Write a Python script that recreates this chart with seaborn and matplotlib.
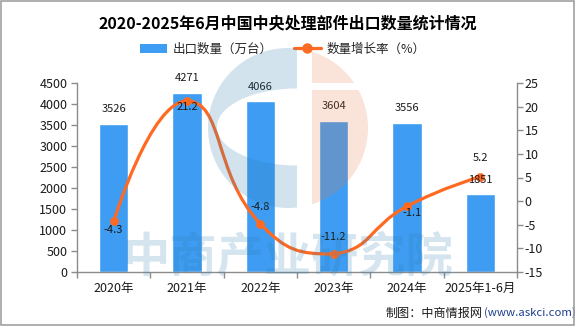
import numpy as np
import pandas as pd
import seaborn as sns
import matplotlib
matplotlib.use("Agg")
import matplotlib.pyplot as plt
from matplotlib.path import Path
from matplotlib.patches import PathPatch, Patch, Rectangle
from matplotlib.lines import Line2D

# ---------------- data ----------------
categories = ['2020年', '2021年', '2022年', '2023年', '2024年', '2025年1-6月']
export_qty = [3526, 4271, 4066, 3604, 3556, 1851]          # 出口数量（万台）
growth_rate = [-4.3, 21.2, -4.8, -11.2, -1.1, 5.2]          # 数量增长率（%）
left_ticks = [0, 500, 1000, 1500, 2000, 2500, 3000, 3500, 4000, 4500]
right_ticks = [-15, -10, -5, 0, 5, 10, 15, 20, 25]
title = '2020-2025年6月中国中央处理部件出口数量统计情况'
legend_labels = ['出口数量（万台）', '数量增长率（%）']
source_cn = '制图：中商情报网'
source_url = '(www.askci.com)'
watermark = '中商产业研究院'

# ---------------- style ----------------
BAR = '#3E9DF2'
LINE = '#FF6A22'
AXC = '#8c8c8c'
TXT = '#1a1a1a'
# offsets (points) of growth-rate labels relative to their markers
growth_label_offsets = [(0, -6), (0, -4), (0, 12), (0, 12), (4, -5), (0, 13)]

sns.set_theme(style='white')
plt.rcParams['font.family'] = ['Noto Sans CJK SC', 'DejaVu Sans']
plt.rcParams['axes.unicode_minus'] = False

W, H = 576, 327
fig = plt.figure(figsize=(W / 100, H / 100), dpi=100)
fig.patch.set_facecolor('white')

# plot area in pixels: x 77..517, y 83..272
ax = fig.add_axes([77 / W, 1 - 272 / H, 440 / W, 189 / H])
ax.set_facecolor('none')

df = pd.DataFrame({'cat': categories, 'qty': export_qty, 'rate': growth_rate})
sns.barplot(data=df, x='cat', y='qty', color=BAR, saturation=1, width=0.4, ax=ax, zorder=2)
ax.set_xlim(-0.5, len(categories) - 0.5)
ax.set_ylim(left_ticks[0], left_ticks[-1])
ax.set_yticks(left_ticks)
ax.set_xlabel('')
ax.set_ylabel('')

for s in ['top', 'right']:
    ax.spines[s].set_visible(False)
for s in ['left', 'bottom']:
    ax.spines[s].set_color(AXC)
    ax.spines[s].set_linewidth(1.0)

ax.tick_params(axis='y', which='major', direction='out', length=4.5, width=1.0,
               color=AXC, pad=2.5, labelsize=9, labelcolor=TXT, left=True)
ax.set_xticks(range(len(categories)))
ax.set_xticklabels(categories)
ax.tick_params(axis='x', which='major', length=0, pad=7, labelsize=9, labelcolor=TXT, bottom=True)
ax.set_xticks(np.arange(-0.5, len(categories), 1.0), minor=True)
ax.tick_params(axis='x', which='minor', direction='out', length=4, width=1.0, color=AXC, bottom=True)
ax.grid(False)

# secondary axis
ax2 = ax.twinx()
ax2.set_ylim(right_ticks[0], right_ticks[-1])
ax2.set_yticks(right_ticks)
for s in ['top', 'left', 'bottom']:
    ax2.spines[s].set_visible(False)
ax2.spines['right'].set_color(AXC)
ax2.spines['right'].set_linewidth(1.0)
ax2.tick_params(axis='y', direction='out', length=4.5, width=1.0, color=AXC, pad=1,
                labelsize=9, labelcolor=TXT, right=True)
ax2.grid(False)

# smooth growth line (ECharts-like bezier smoothing, computed in display space)
xs = np.arange(len(categories), dtype=float)
pts = ax2.transData.transform(np.column_stack([xs, growth_rate]))
smooth = 0.5
verts = [tuple(pts[0])]
codes = [Path.MOVETO]
cp = pts[0].copy()
n = len(pts)
for i in range(1, n):
    p = pts[i]
    if i + 1 < n:
        prev, nxt = pts[i - 1], pts[i + 1]
        v = nxt - prev
        l0 = np.hypot(*(p - prev))
        l1 = np.hypot(*(nxt - p))
        r = l1 / (l0 + l1)
        c0 = p - v * smooth * (1 - r)
        ncp = p + v * smooth * r
        lo = np.minimum(prev, nxt); hi = np.maximum(prev, nxt)
        c0 = np.clip(c0, np.minimum(lo, p), np.maximum(hi, p))
        ncp = np.clip(ncp, np.minimum(lo, p), np.maximum(hi, p))
    else:
        c0 = p.copy()
        ncp = p.copy()
    verts += [tuple(cp), tuple(c0), tuple(p)]
    codes += [Path.CURVE4] * 3
    cp = ncp
verts_data = ax2.transData.inverted().transform(np.array(verts))
line_patch = PathPatch(Path(verts_data, codes), facecolor='none', edgecolor=LINE,
                       linewidth=2.3, transform=ax2.transData, zorder=3, capstyle='round')
ax2.add_patch(line_patch)
sns.scatterplot(x=xs, y=growth_rate, ax=ax2, color=LINE, s=40, edgecolor=LINE,
                linewidth=0, zorder=4, legend=False)

# labels
for i, v in enumerate(export_qty):
    ax2.annotate(f'{v}', xy=(i, v), xycoords=ax.transData, xytext=(0, 10.5),
                 textcoords='offset points', ha='center', va='center',
                 fontsize=8, color=TXT, zorder=6)
for i, v in enumerate(growth_rate):
    ax2.annotate(f'{v}', xy=(i, v), xytext=growth_label_offsets[i],
                 textcoords='offset points', ha='center', va='center',
                 fontsize=8, color=TXT, zorder=6)

# title, legend, source
fig.text(288 / W, 1 - 23 / H, title, ha='center', va='center', fontsize=11.5,
         fontweight='bold', color='black')
handles = [Patch(facecolor=BAR, edgecolor='none'),
           Line2D([0], [0], color=LINE, lw=2.3, marker='o', markersize=6.5,
                  markerfacecolor=LINE, markeredgecolor=LINE)]
fig.legend(handles, legend_labels, loc='center', bbox_to_anchor=(282.5 / W, 1 - 49 / H),
           ncol=2, frameon=False, fontsize=9, handlelength=2.2, handletextpad=0.4,
           columnspacing=1.7, borderpad=0, handleheight=0.7)
fig.text(483 / W, 1 - 313 / H, source_cn, ha='right', va='center', fontsize=8.7, color=TXT)
fig.text(484 / W, 1 - 313 / H, source_url, ha='left', va='center', fontsize=8.2, color='#1f3f8f')

# overlay: watermark logo + text
ov = fig.add_axes([0, 0, 1, 1], zorder=10)
ov.set_xlim(0, W)
ov.set_ylim(H, 0)
ov.axis('off')
ov.patch.set_alpha(0)

WM_BLUE = (45 / 255, 126 / 255, 179 / 255)
WM_PEACH = (236 / 255, 123 / 255, 71 / 255)
WA = 0.21
cx, cy, R = 288, 128, 80

# blue "C": circle part left of x=297 minus a half-ellipse hole
xr = 297
tb = np.arctan2(np.sqrt(R**2 - (xr - cx) ** 2), xr - cx)
ts = np.linspace(tb, 2 * np.pi - tb, 120)
outer = np.column_stack([cx + R * np.cos(ts), cy + R * np.sin(ts)])
th = np.linspace(np.pi / 2, 3 * np.pi / 2, 100)
hole = np.column_stack([xr + 80 * np.cos(th), 127 + 38.5 * np.sin(th)])[::-1]
vb = np.vstack([outer, outer[:1], hole, hole[:1]])
cb = ([Path.MOVETO] + [Path.LINETO] * (len(outer) - 1) + [Path.CLOSEPOLY]
      + [Path.MOVETO] + [Path.LINETO] * (len(hole) - 1) + [Path.CLOSEPOLY])
ov.add_patch(PathPatch(Path(vb, cb), facecolor=WM_BLUE, edgecolor='none', alpha=WA))

# peach half disk right of x=312 with a white band at y 83..90
xl = 312
tx = np.arccos((xl - cx) / R)
ttop0, ttop1 = 2 * np.pi - tx, 2 * np.pi + np.arcsin((83 - cy) / R)
t1 = np.linspace(ttop0, ttop1, 50)
top_piece = np.vstack([np.column_stack([cx + R * np.cos(t1), cy + R * np.sin(t1)]),
                       [[xl, 83]]])
tbot0, tbot1 = np.arcsin((90 - cy) / R), tx
t2 = np.linspace(tbot0, tbot1, 80)
bot_piece = np.vstack([[[xl, 90]], np.column_stack([cx + R * np.cos(t2), cy + R * np.sin(t2)])])
for poly in (top_piece, bot_piece):
    vv = np.vstack([poly, poly[:1]])
    cc = [Path.MOVETO] + [Path.LINETO] * (len(poly) - 1) + [Path.CLOSEPOLY]
    ov.add_patch(PathPatch(Path(vv, cc), facecolor=WM_PEACH, edgecolor='none', alpha=WA))

ov.text(288, 257, watermark, ha='center', va='center', fontsize=34, fontweight='bold',
        color=WM_BLUE, alpha=0.2)

# figure border
ov.add_patch(Rectangle((1, 1), 573, 324, facecolor='none', edgecolor='#999999', linewidth=1.1))

fig.savefig('out.png', dpi=100)
